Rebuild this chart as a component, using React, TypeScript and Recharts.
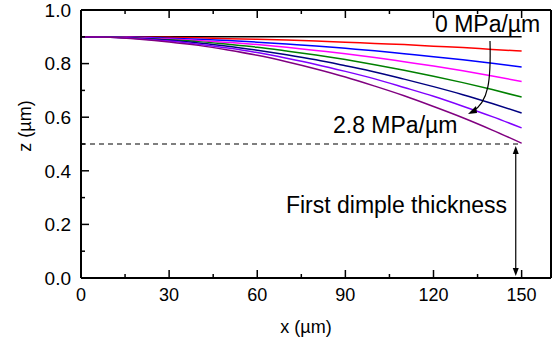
import React from "react"
import { LineChart, Line, XAxis, YAxis, ReferenceLine } from "recharts"

// x positions along the film (µm)
const xs = [0, 10, 20, 30, 40, 50, 60, 70, 80, 90, 100, 110, 120, 130, 140, 150]

// z profiles (µm) for increasing pressure gradient, 0 -> 2.8 MPa/µm
const p0 = [0.9, 0.9, 0.9, 0.9, 0.9, 0.9, 0.9, 0.9, 0.9, 0.9, 0.9, 0.9, 0.9, 0.9, 0.9, 0.9]
const p1 = [0.9, 0.9, 0.899, 0.898, 0.896, 0.893, 0.891, 0.888, 0.884, 0.88, 0.875, 0.871, 0.865, 0.86, 0.853, 0.847]
const p2 = [0.9, 0.899, 0.898, 0.895, 0.891, 0.886, 0.88, 0.873, 0.866, 0.857, 0.848, 0.837, 0.826, 0.814, 0.801, 0.787]
const p3 = [0.9, 0.899, 0.896, 0.892, 0.886, 0.879, 0.871, 0.861, 0.849, 0.837, 0.823, 0.807, 0.791, 0.773, 0.754, 0.733]
const p4 = [0.9, 0.899, 0.895, 0.889, 0.882, 0.872, 0.861, 0.847, 0.832, 0.815, 0.796, 0.775, 0.753, 0.729, 0.703, 0.675]
const p5 = [0.9, 0.898, 0.894, 0.887, 0.877, 0.865, 0.85, 0.833, 0.814, 0.792, 0.769, 0.742, 0.714, 0.684, 0.651, 0.616]
const p6 = [0.9, 0.898, 0.893, 0.884, 0.872, 0.858, 0.841, 0.82, 0.797, 0.771, 0.743, 0.711, 0.678, 0.641, 0.602, 0.56]
const p7 = [0.9, 0.898, 0.891, 0.881, 0.868, 0.851, 0.831, 0.807, 0.78, 0.75, 0.716, 0.68, 0.64, 0.598, 0.552, 0.503]

const xTicks = [0, 15, 30, 45, 60, 75, 90, 105, 120, 135, 150]
const yTicks = [0, 0.1, 0.2, 0.3, 0.4, 0.5, 0.6, 0.7, 0.8, 0.9, 1.0]
const dimpleZ = 0.5
const arrowX = 148

const SERIES = [
  { key: "p0", values: p0, color: "#000000" },
  { key: "p1", values: p1, color: "#ff0000" },
  { key: "p2", values: p2, color: "#0000ff" },
  { key: "p3", values: p3, color: "#ff00ff" },
  { key: "p4", values: p4, color: "#008000" },
  { key: "p5", values: p5, color: "#000080" },
  { key: "p6", values: p6, color: "#8000ff" },
  { key: "p7", values: p7, color: "#800080" },
]

const data = xs.map((x, i) => {
  const row: Record<string, number> = { x }
  SERIES.forEach((s) => (row[s.key] = s.values[i]))
  return row
})

const FONT = "'Liberation Sans', Arial, sans-serif"

const xMajor = (v: number) => v % 30 === 0
const yMajor = (v: number) => Math.round(v * 10) % 2 === 0

function BottomTick(props: any) {
  const { x, y, payload } = props
  const v = payload.value
  return (
    <g>
      <line x1={x} x2={x} y1={y - 10} y2={y - 10 - (xMajor(v) ? 8 : 4)} stroke="#000" strokeWidth={1.5} />
      {xMajor(v) ? (
        <text x={x} y={y} dy="0.71em" textAnchor="middle" fontSize={18} fontFamily={FONT} fill="#000">
          {v}
        </text>
      ) : null}
    </g>
  )
}

function TopTick(props: any) {
  const { x, y, payload } = props
  const v = payload.value
  return (
    <g>
      <line x1={x} x2={x} y1={y} y2={y + (xMajor(v) ? 8 : 4)} stroke="#000" strokeWidth={1.5} />
    </g>
  )
}

function LeftTick(props: any) {
  const { x, y, payload } = props
  const v = payload.value
  return (
    <g>
      <line x1={x + 10} x2={x + 10 + (yMajor(v) ? 8 : 4)} y1={y} y2={y} stroke="#000" strokeWidth={1.5} />
      {yMajor(v) ? (
        <text x={x} y={y} dy="0.355em" textAnchor="end" fontSize={19} fontFamily={FONT} fill="#000">
          {v.toFixed(1)}
        </text>
      ) : null}
    </g>
  )
}

function RightTick(props: any) {
  const { x, y, payload } = props
  const v = payload.value
  return (
    <g>
      <line x1={x} x2={x - (yMajor(v) ? 7 : 4)} y1={y} y2={y} stroke="#000" strokeWidth={1.5} />
    </g>
  )
}

function DoubleArrow(props: any) {
  const { x1, y1, y2 } = props
  const top = Math.min(y1, y2) + 2
  const bot = Math.max(y1, y2) - 2
  return (
    <g>
      <line x1={x1} x2={x1} y1={top + 4} y2={bot - 4} stroke="#000" strokeWidth={1.2} />
      <polygon points={`${x1},${top} ${x1 - 3},${top + 8} ${x1 + 3},${top + 8}`} fill="#000" />
      <polygon points={`${x1},${bot} ${x1 - 3},${bot - 8} ${x1 + 3},${bot - 8}`} fill="#000" />
    </g>
  )
}

export default function App() {
  return (
    <div style={{ position: "absolute", left: 0, top: 0, width: 558, height: 345, background: "#fff" }}>
      <LineChart width={558} height={345} data={data} margin={{ top: 0, right: 0, bottom: 0, left: 0 }}>
        <XAxis
          dataKey="x"
          type="number"
          domain={[0, 160]}
          ticks={xTicks}
          interval={0}
          height={67}
          stroke="#000"
          strokeWidth={2}
          tickLine={false}
          tickSize={0}
          tickMargin={10}
          tick={BottomTick}
        />
        <XAxis
          xAxisId="top"
          orientation="top"
          dataKey="x"
          type="number"
          domain={[0, 160]}
          ticks={xTicks}
          interval={0}
          height={10}
          stroke="#000"
          strokeWidth={2}
          tickLine={false}
          tickSize={0}
          tickMargin={0}
          tick={TopTick}
        />
        <YAxis
          type="number"
          domain={[0, 1]}
          ticks={yTicks}
          interval={0}
          width={81}
          stroke="#000"
          strokeWidth={2}
          tickLine={false}
          tickSize={0}
          tickMargin={10}
          tick={LeftTick}
        />
        <YAxis
          yAxisId="right"
          orientation="right"
          type="number"
          domain={[0, 1]}
          ticks={yTicks}
          interval={0}
          width={7}
          stroke="#000"
          strokeWidth={2}
          tickLine={false}
          tickSize={0}
          tickMargin={0}
          tick={RightTick}
        />
        {SERIES.map((s) => (
          <Line
            key={s.key}
            dataKey={s.key}
            type="monotone"
            stroke={s.color}
            strokeWidth={1.5}
            dot={false}
            isAnimationActive={false}
          />
        ))}
        <ReferenceLine
          segment={[{ x: 0, y: dimpleZ }, { x: 150, y: dimpleZ }]}
          stroke="#000"
          strokeWidth={1.2}
          strokeDasharray="5 4"
        />
        <ReferenceLine
          segment={[{ x: arrowX, y: dimpleZ }, { x: arrowX, y: 0 }]}
          shape={DoubleArrow}
        />
      </LineChart>
      <svg
        width={558}
        height={345}
        style={{ position: "absolute", left: 0, top: 0, pointerEvents: "none" }}
        fontFamily={FONT}
      >
        <text x={25} y={126} transform="rotate(-90 25 126)" textAnchor="middle" dy="0.355em" fontSize={18}>
          z (µm)
        </text>
        <text x={306} y={333} textAnchor="middle" fontSize={18}>
          x (µm)
        </text>
        <text x={435} y={32} fontSize={23}>
          0 MPa/µm
        </text>
        <text x={333} y={133} fontSize={23}>
          2.8 MPa/µm
        </text>
        <text x={507} y={213} textAnchor="end" fontSize={23}>
          First dimple thickness
        </text>
        <path d="M 490 41 C 491 80 489 102 472 112" fill="none" stroke="#000" strokeWidth={1.2} />
        <polygon points="468,114 476,106 477,113" fill="#000" />
      </svg>
    </div>
  )
}
